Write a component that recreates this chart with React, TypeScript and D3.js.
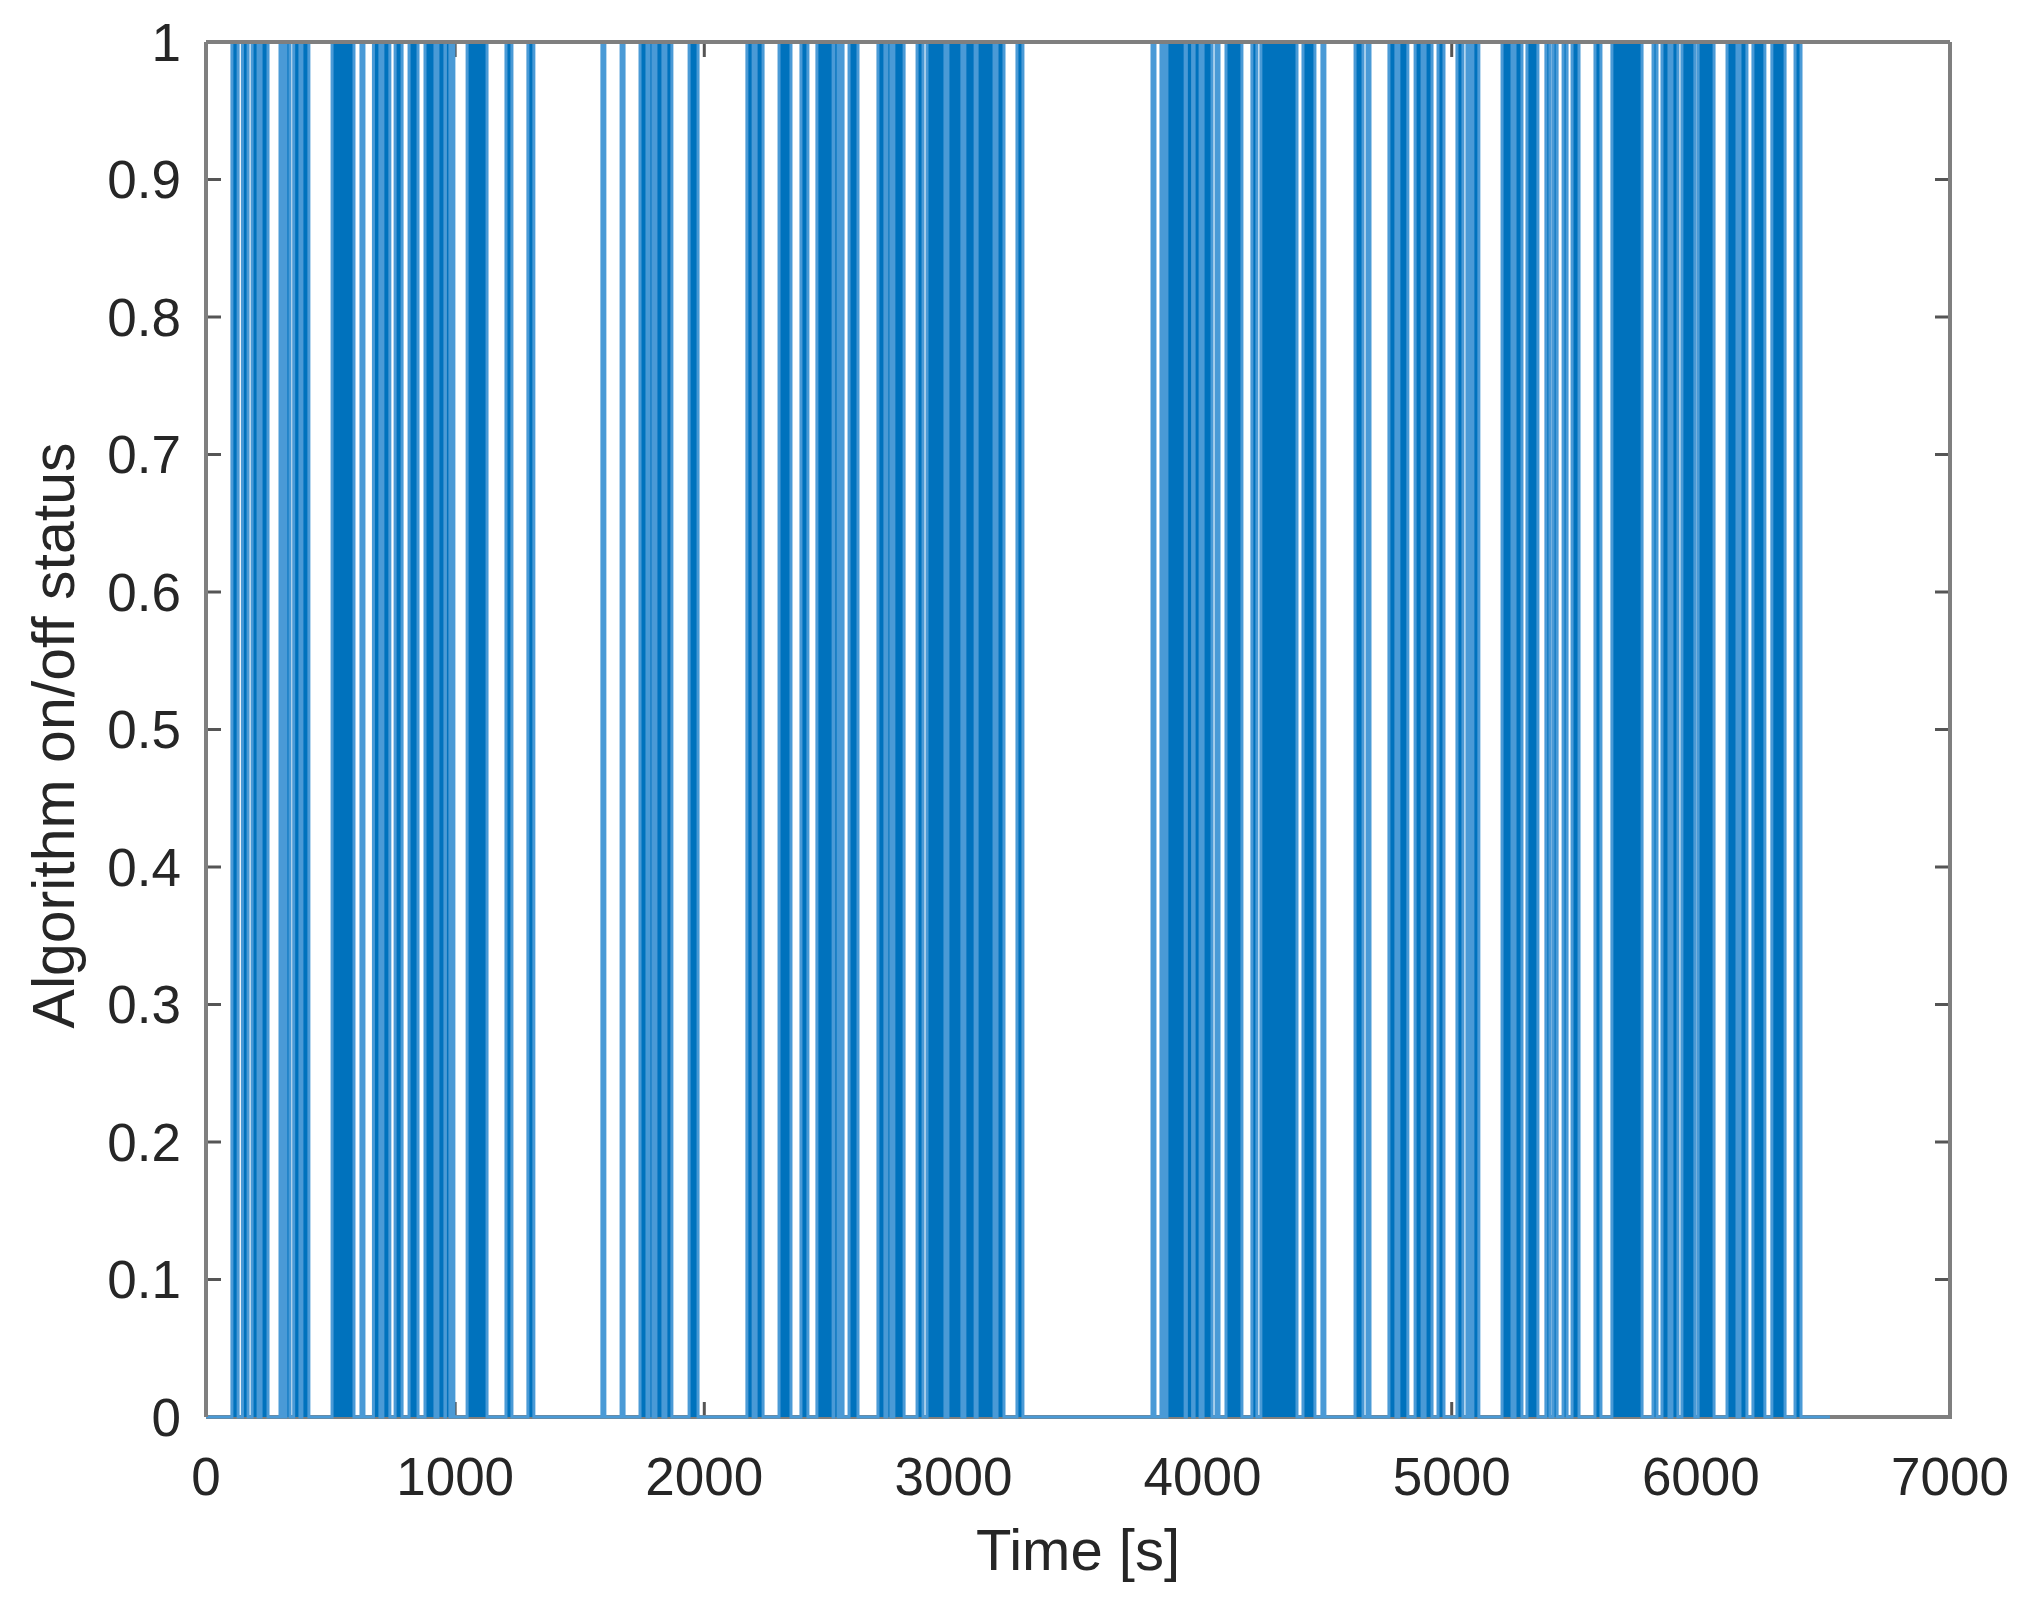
import React from "react";
import * as d3 from "d3";

const X_TICKS = [0, 1000, 2000, 3000, 4000, 5000, 6000, 7000];
const Y_TICKS = [0, 0.1, 0.2, 0.3, 0.4, 0.5, 0.6, 0.7, 0.8, 0.9, 1];

// Algorithm "on" intervals (seconds)
const ON_STARTS = [
  104, 146, 185, 221, 297, 321, 352, 385, 506, 622, 672, 710, 759, 815, 879, 931, 961, 983, 1048, 1204, 1292,
  1589, 1666, 1742, 1778, 1806, 1846, 1939, 2171, 2208, 2300, 2388, 2452, 2520, 2545, 2581, 2697, 2733, 2761,
  2854, 2894, 2978, 3046, 3095, 3175, 3255, 3797, 3833, 3857, 3935, 3966, 4002, 4054, 4094, 4198, 4234, 4403,
  4479, 4612, 4660, 4748, 4788, 4853, 4893, 4945, 5021, 5061, 5085, 5202, 5254, 5302, 5378, 5407, 5447, 5483,
  5575, 5643, 5808, 5844, 5884, 5924, 5989, 6105, 6157, 6209, 6285, 6378,
];
const ON_ENDS = [
  129, 169, 209, 249, 309, 337, 377, 413, 594, 634, 698, 738, 787, 851, 919, 959, 979, 995, 1128, 1228, 1316,
  1601, 1678, 1770, 1794, 1834, 1870, 1975, 2196, 2236, 2348, 2416, 2517, 2537, 2557, 2617, 2725, 2749, 2802,
  2878, 2966, 3034, 3087, 3163, 3203, 3279, 3809, 3845, 3930, 3960, 3990, 4038, 4066, 4158, 4218, 4379, 4451,
  4491, 4644, 4672, 4776, 4824, 4881, 4921, 4969, 5045, 5073, 5109, 5242, 5282, 5346, 5394, 5423, 5463, 5511,
  5599, 5764, 5824, 5872, 5908, 5976, 6053, 6145, 6185, 6257, 6338, 6402,
];
const END_TIME = 6518;

export default function App() {
  const W = 2026;
  const H = 1615;
  const L = 206, R = 1950, T = 42, B = 1417;
  const x = d3.scaleLinear().domain([0, 7000]).range([L, R]);
  const y = d3.scaleLinear().domain([0, 1]).range([B, T]);

  const pts: [number, number][] = [[0, 0]];
  ON_STARTS.forEach((s, i) => {
    pts.push([s, 1]);
    pts.push([ON_ENDS[i], 0]);
  });
  pts.push([END_TIME, 0]);

  const line = d3
    .line<[number, number]>()
    .x((d) => x(d[0]))
    .y((d) => y(d[1]))
    .curve(d3.curveStepAfter);
  const area = d3
    .area<[number, number]>()
    .x((d) => x(d[0]))
    .y0(y(0))
    .y1((d) => y(d[1]))
    .curve(d3.curveStepAfter);

  const font = "'Liberation Sans', Arial, Helvetica, sans-serif";
  const tickLen = 15;
  const axisCol = "#7f7f7f";
  const tickCol = "#555555";
  const textCol = "#262626";

  return (
    <svg
      width={W}
      height={H}
      style={{ position: "absolute", left: 0, top: 0, background: "#fff" }}
      fontFamily={font}
    >
      <rect x={0} y={0} width={W} height={H} fill="#fff" />
      {X_TICKS.map((t) => (
        <g key={"xt" + t}>
          <line x1={x(t)} x2={x(t)} y1={B} y2={B - tickLen} stroke={tickCol} strokeWidth={3} />
          <line x1={x(t)} x2={x(t)} y1={T} y2={T + tickLen} stroke={tickCol} strokeWidth={3} />
        </g>
      ))}
      {Y_TICKS.map((t) => (
        <g key={"yt" + t}>
          <line x1={L} x2={L + tickLen} y1={y(t)} y2={y(t)} stroke={tickCol} strokeWidth={3} />
          <line x1={R} x2={R - tickLen} y1={y(t)} y2={y(t)} stroke={tickCol} strokeWidth={3} />
        </g>
      ))}
      <line x1={L} x2={R} y1={B} y2={B} stroke={axisCol} strokeWidth={4} />
      <path d={area(pts) || ""} fill="#0072BD" stroke="none" />
      <path d={line(pts) || ""} fill="none" stroke="#4a9ad6" strokeWidth={3} />
      <line x1={L} x2={R} y1={T} y2={T} stroke={axisCol} strokeWidth={4} />
      <line x1={L} x2={L} y1={T} y2={B} stroke={axisCol} strokeWidth={4} />
      <line x1={R} x2={R} y1={T} y2={B + 2} stroke={axisCol} strokeWidth={4} />
      {X_TICKS.map((t) => (
        <text key={"xl" + t} x={x(t)} y={1495} textAnchor="middle" fontSize={53} fill={textCol}>
          {String(t)}
        </text>
      ))}
      {Y_TICKS.map((t) => (
        <text
          key={"yl" + t}
          x={181}
          y={y(t)}
          textAnchor="end"
          dominantBaseline="central"
          fontSize={53}
          fill={textCol}
        >
          {String(+t.toFixed(1))}
        </text>
      ))}
      <text x={x(3500)} y={1570} textAnchor="middle" fontSize={58} fill={textCol}>
        Time [s]
      </text>
      <text
        transform={`translate(54, ${(T + B) / 2 + 6}) rotate(-90)`}
        textAnchor="middle"
        dominantBaseline="central"
        fontSize={59}
        fill={textCol}
      >
        Algorithm on/off status
      </text>
    </svg>
  );
}
